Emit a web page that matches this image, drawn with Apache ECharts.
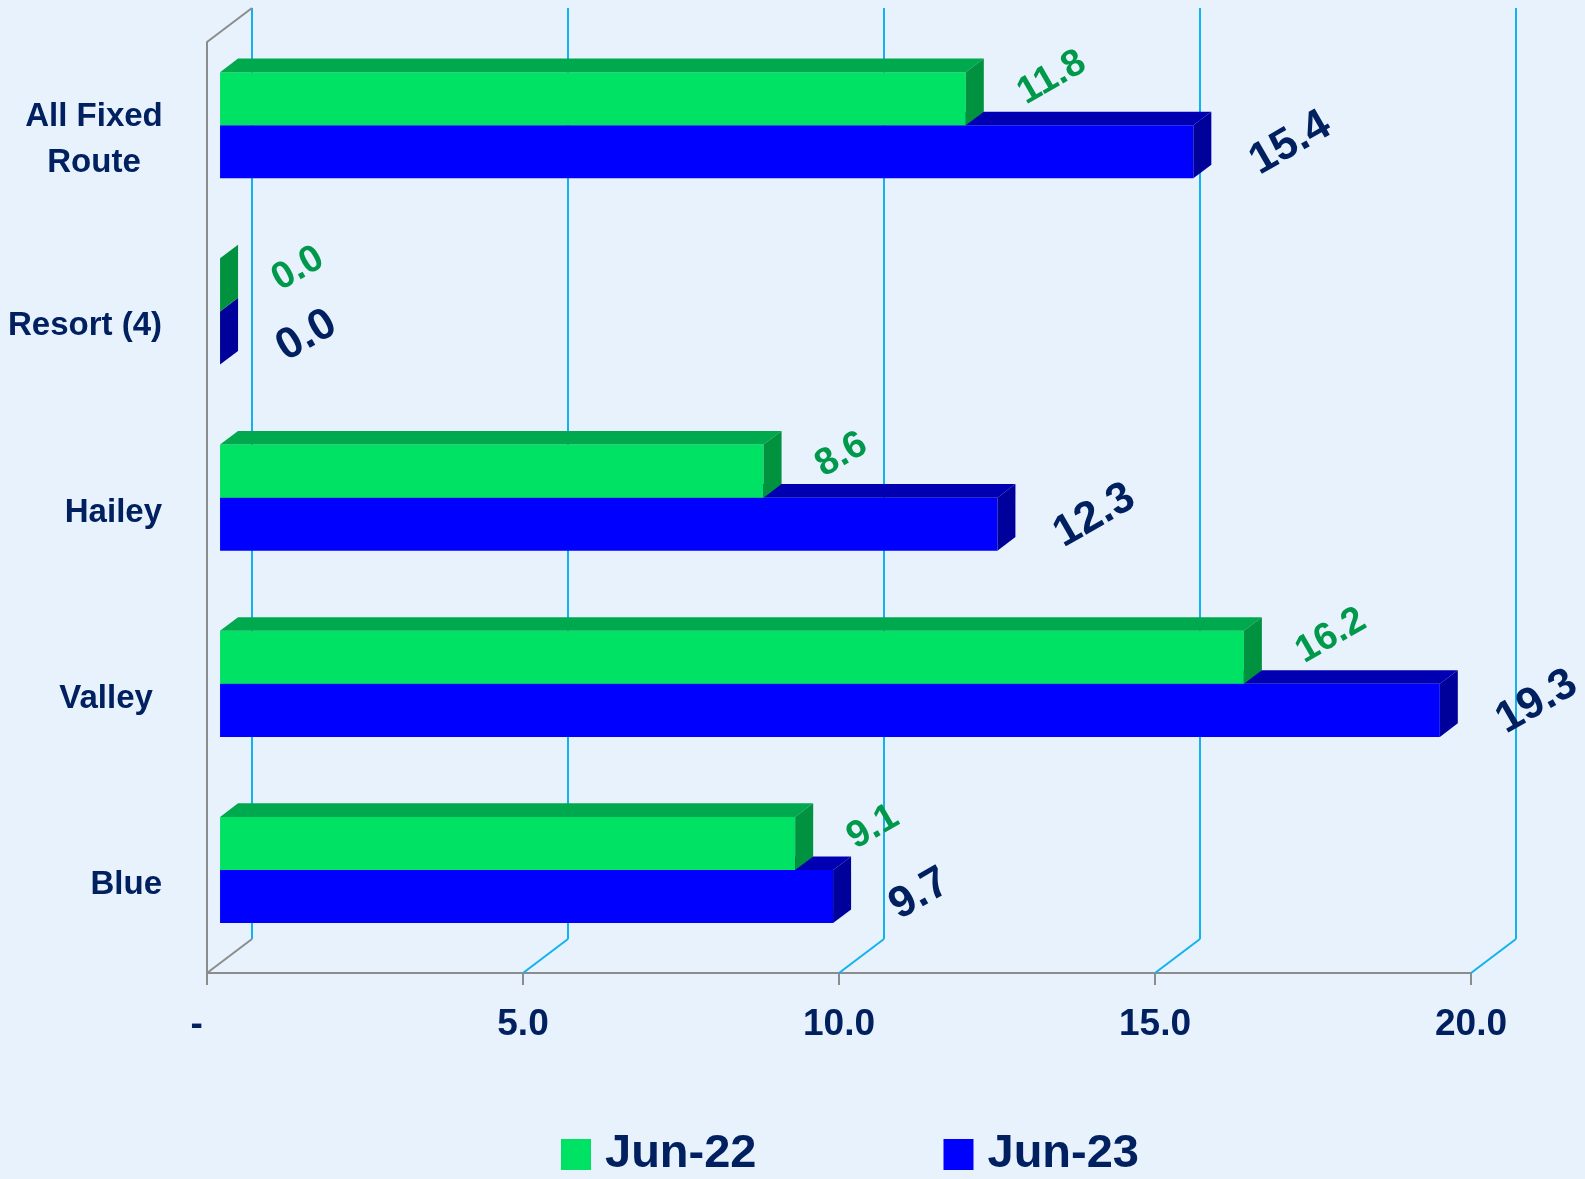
<!DOCTYPE html>
<html>
<head>
<meta charset="utf-8">
<title>Bars by route</title>
<script src="https://cdn.jsdelivr.net/npm/echarts@6/dist/echarts.min.js"></script>
<style>
  html, body { margin: 0; padding: 0; background: #E7F2FD; }
  #chart { width: 1585px; height: 1179px; }
</style>
</head>
<body>
<div id="chart"></div>
<script>
// ---- data ----
const categories = ['All Fixed\nRoute', 'Resort (4)', 'Hailey', 'Valley ', 'Blue'];
const seriesNames = ['Jun-22', 'Jun-23'];
const jun22 = [11.8, 0.0, 8.6, 16.2, 9.1];
const jun23 = [15.4, 0.0, 12.3, 19.3, 9.7];
const axisTicks = [0, 5, 10, 15, 20];

// ---- styling ----
const NAVY = '#002060';
const GRID_CYAN = '#12B2EE';
const FRAME_GRAY = '#8C8C8C';
const FONT = '"Liberation Sans", Arial, sans-serif';

// oblique 3D frame: back wall sits this far up-right of the front plane
const FRAME_DX = 45;
const FRAME_DY = 34;
// bars occupy this slice of the frame depth
const BAR_NEAR = 0.29;
const BAR_FAR = 0.69;
// bar thickness as a share of one category band
const BAR_SHARE = 0.285;

const palette = [
  { front: '#00E264', top: '#00A84E', side: '#00923F', label: '#00994C',
    font: 'bold 38px ' + FONT, labelDx: 55, labelDy: -3 },
  { front: '#0000FF', top: '#0000B2', side: '#00009A', label: NAVY,
    font: 'bold 44px ' + FONT, labelDx: 60, labelDy: 13 }
];

function barRenderer(idx) {
  const pal = palette[idx];
  return function (params, api) {
    const val = api.value(0);
    const cat = api.value(1);
    const base = api.coord([0, cat]);
    const end = api.coord([val, cat]);
    const band = api.size([0, 1])[1];
    const barH = band * BAR_SHARE;
    const ox = FRAME_DX * BAR_NEAR;
    const oy = -FRAME_DY * BAR_NEAR;
    const ddx = FRAME_DX * (BAR_FAR - BAR_NEAR);
    const ddy = FRAME_DY * (BAR_FAR - BAR_NEAR);
    const cy = base[1] + oy;
    const T = idx === 0 ? cy - barH : cy;
    const B = idx === 0 ? cy : cy + barH;
    const L = base[0] + ox;
    const R = end[0] + ox;
    return {
      type: 'group',
      children: [
        { type: 'rect', shape: { x: L, y: T, width: R - L, height: B - T },
          style: { fill: pal.front } },
        { type: 'polygon', shape: { points: [[L, T], [R, T], [R + ddx, T - ddy], [L + ddx, T - ddy]] },
          style: { fill: pal.top } },
        { type: 'polygon', shape: { points: [[R, T], [R + ddx, T - ddy], [R + ddx, B - ddy], [R, B]] },
          style: { fill: pal.side } },
        { type: 'text', x: R + pal.labelDx, y: (T + B) / 2 + pal.labelDy, rotation: Math.PI / 6,
          style: { text: val.toFixed(1), fill: pal.label, font: pal.font,
                   align: 'left', verticalAlign: 'middle' } }
      ]
    };
  };
}

// back wall gridlines, floor diagonals and the left wall top edge
function frameRenderer(params, api) {
  const v = api.value(0);
  const cs = params.coordSys;
  const x = api.coord([v, 0])[0];
  const top = cs.y;
  const bottom = cs.y + cs.height;
  const children = [
    { type: 'line', shape: { x1: x, y1: bottom, x2: x + FRAME_DX, y2: bottom - FRAME_DY },
      style: { stroke: v === 0 ? FRAME_GRAY : GRID_CYAN, lineWidth: 2 } },
    { type: 'line', shape: { x1: x + FRAME_DX, y1: bottom - FRAME_DY, x2: x + FRAME_DX, y2: top - FRAME_DY },
      style: { stroke: GRID_CYAN, lineWidth: 2 } }
  ];
  if (v === 0) {
    children.push({ type: 'line', shape: { x1: x, y1: top, x2: x + FRAME_DX, y2: top - FRAME_DY },
      style: { stroke: FRAME_GRAY, lineWidth: 2 } });
  }
  return { type: 'group', children: children };
}

const chart = echarts.init(document.getElementById('chart'));
chart.setOption({
  backgroundColor: '#E7F2FD',
  animation: false,
  grid: { left: 207, right: 114, top: 42, bottom: 206, containLabel: false, outerBoundsMode: 'none' },
  legend: {
    data: seriesNames,
    icon: 'rect',
    left: 561,
    top: 1131,
    padding: 0,
    itemWidth: 30,
    itemHeight: 31,
    itemGap: 187,
    textStyle: { color: NAVY, fontFamily: FONT, fontWeight: 'bold', fontSize: 47,
                 padding: [0, 0, 0, 9] }
  },
  xAxis: {
    type: 'value',
    min: 0, max: 20, interval: 5,
    axisLine: { show: true, lineStyle: { color: FRAME_GRAY, width: 2 } },
    axisTick: { show: true, length: 12, lineStyle: { color: FRAME_GRAY, width: 2 } },
    splitLine: { show: false },
    axisLabel: {
      margin: 33,
      color: NAVY, fontFamily: FONT, fontWeight: 'bold', fontSize: 37,
      formatter: function (v) { return v === 0 ? '-  ' : v.toFixed(1); }
    }
  },
  yAxis: {
    type: 'category',
    inverse: true,
    data: categories,
    axisLine: { show: true, lineStyle: { color: FRAME_GRAY, width: 2 } },
    axisTick: { show: false },
    axisLabel: {
      margin: 45,
      padding: [10, 0, 0, 0],
      color: NAVY, fontFamily: FONT, fontWeight: 'bold', fontSize: 33, lineHeight: 46,
      formatter: function (v) {
        const lines = v.split('\n');
        if (lines.length === 1) return v;
        return lines.map(function (s) { return '{c|' + s + '}'; }).join('\n');
      },
      rich: {
        c: { width: 136, align: 'center', color: NAVY, fontFamily: FONT, fontWeight: 'bold',
             fontSize: 33, lineHeight: 46 }
      }
    }
  },
  series: [
    {
      type: 'custom', name: 'frame', silent: true, z: 1,
      renderItem: frameRenderer,
      encode: { x: 0 },
      data: axisTicks.map(function (t) { return [t]; })
    },
    {
      type: 'custom', name: seriesNames[0], z: 3,
      itemStyle: { color: palette[0].front },
      renderItem: barRenderer(0),
      encode: { x: 0, y: 1 },
      data: jun22.map(function (v, i) { return [v, i]; })
    },
    {
      type: 'custom', name: seriesNames[1], z: 2,
      itemStyle: { color: palette[1].front },
      renderItem: barRenderer(1),
      encode: { x: 0, y: 1 },
      data: jun23.map(function (v, i) { return [v, i]; })
    }
  ]
});
</script>
</body>
</html>
